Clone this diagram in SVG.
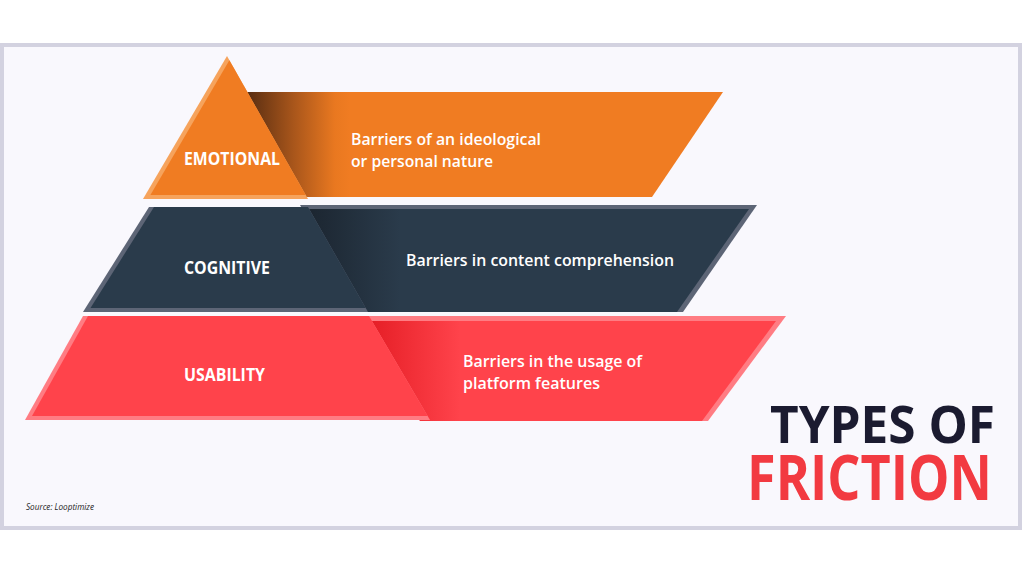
<svg xmlns="http://www.w3.org/2000/svg" width="1024" height="576" viewBox="0 0 1024 576">
<defs>
<style>
.lbl{font-family:"Open Sans","Liberation Sans",sans-serif;font-weight:700;fill:#ffffff;font-size:17px}
.desc{font-family:"Open Sans","Liberation Sans",sans-serif;font-weight:600;fill:#ffffff;font-size:17px}
.ttl{font-family:"Open Sans","Liberation Sans",sans-serif;font-weight:700}
</style>
<linearGradient id="gO" gradientUnits="userSpaceOnUse" x1="248" y1="0" x2="350" y2="0">
<stop offset="0" stop-color="#5a2e12"/><stop offset="0.45" stop-color="#a9561b"/><stop offset="0.85" stop-color="#e97820"/><stop offset="1" stop-color="#f07c22"/>
</linearGradient>
<linearGradient id="gC" gradientUnits="userSpaceOnUse" x1="310" y1="0" x2="400" y2="0">
<stop offset="0" stop-color="#1c2631"/><stop offset="1" stop-color="#2a3b4b"/>
</linearGradient>
<linearGradient id="gR" gradientUnits="userSpaceOnUse" x1="372" y1="0" x2="460" y2="0">
<stop offset="0" stop-color="#e61f27"/><stop offset="1" stop-color="#ff434b"/>
</linearGradient>
</defs>
<rect x="0" y="0" width="1024" height="576" fill="#ffffff"/>
<rect x="2" y="45" width="1018" height="483" fill="#f9f8fd" stroke="#d3d2e0" stroke-width="4"/>

<g id="usability">
<polygon points="360,316 786,316 708,421 420,421" fill="#ff7c83"/>
<polygon points="360,321 776,321 702,421 420,421" fill="url(#gR)"/>
<polygon points="83,316 369,316 430,420 25,420" fill="#ff7c83"/>
<polygon points="88,316 369,316 427.7,416 32,416" fill="#ff434b"/>
<text class="lbl" x="184" y="381" textLength="81" lengthAdjust="spacingAndGlyphs">USABILITY</text>
<text class="desc" x="463" y="367" textLength="179" lengthAdjust="spacingAndGlyphs">Barriers in the usage of</text>
<text class="desc" x="463" y="389" textLength="137" lengthAdjust="spacingAndGlyphs">platform features</text>
</g>

<g id="cognitive">
<polygon points="300,205 757,205 683,312 360,312" fill="#5d6576"/>
<polygon points="300,209 749,209 677,312 360,312" fill="url(#gC)"/>
<polygon points="149,207 308,207 368,312 83,312" fill="#5d6576"/>
<polygon points="154,207 308,207 365.7,308 90.5,308" fill="#2a3b4b"/>
<text class="lbl" x="184" y="274" textLength="86" lengthAdjust="spacingAndGlyphs">COGNITIVE</text>
<text class="desc" x="406" y="266" textLength="268" lengthAdjust="spacingAndGlyphs">Barriers in content comprehension</text>
</g>

<g id="emotional">
<polygon points="245,92 723,92 652,197 300,197" fill="url(#gO)"/>
<polygon points="227,56 308,199 143,199" fill="#f6a35c"/>
<polygon points="229.4,60.3 305.7,195 150.4,195" fill="#f07c22"/>
<text class="lbl" x="184" y="165" textLength="96" lengthAdjust="spacingAndGlyphs">EMOTIONAL</text>
<text class="desc" x="351" y="145" textLength="190" lengthAdjust="spacingAndGlyphs">Barriers of an ideological</text>
<text class="desc" x="351" y="167" textLength="142" lengthAdjust="spacingAndGlyphs">or personal nature</text>
</g>

<g id="title">
<text class="ttl" x="770" y="443" font-size="52" fill="#1b1b30" textLength="225" lengthAdjust="spacingAndGlyphs">TYPES OF</text>
<text class="ttl" x="747" y="500" font-size="63" fill="#f23a41" textLength="245" lengthAdjust="spacingAndGlyphs">FRICTION</text>
</g>

<g id="source">
<text x="26" y="510" font-family="'Open Sans','Liberation Sans',sans-serif" font-style="italic" font-size="9" fill="#222222" textLength="68" lengthAdjust="spacingAndGlyphs">Source: Looptimize</text>
</g>
</svg>
